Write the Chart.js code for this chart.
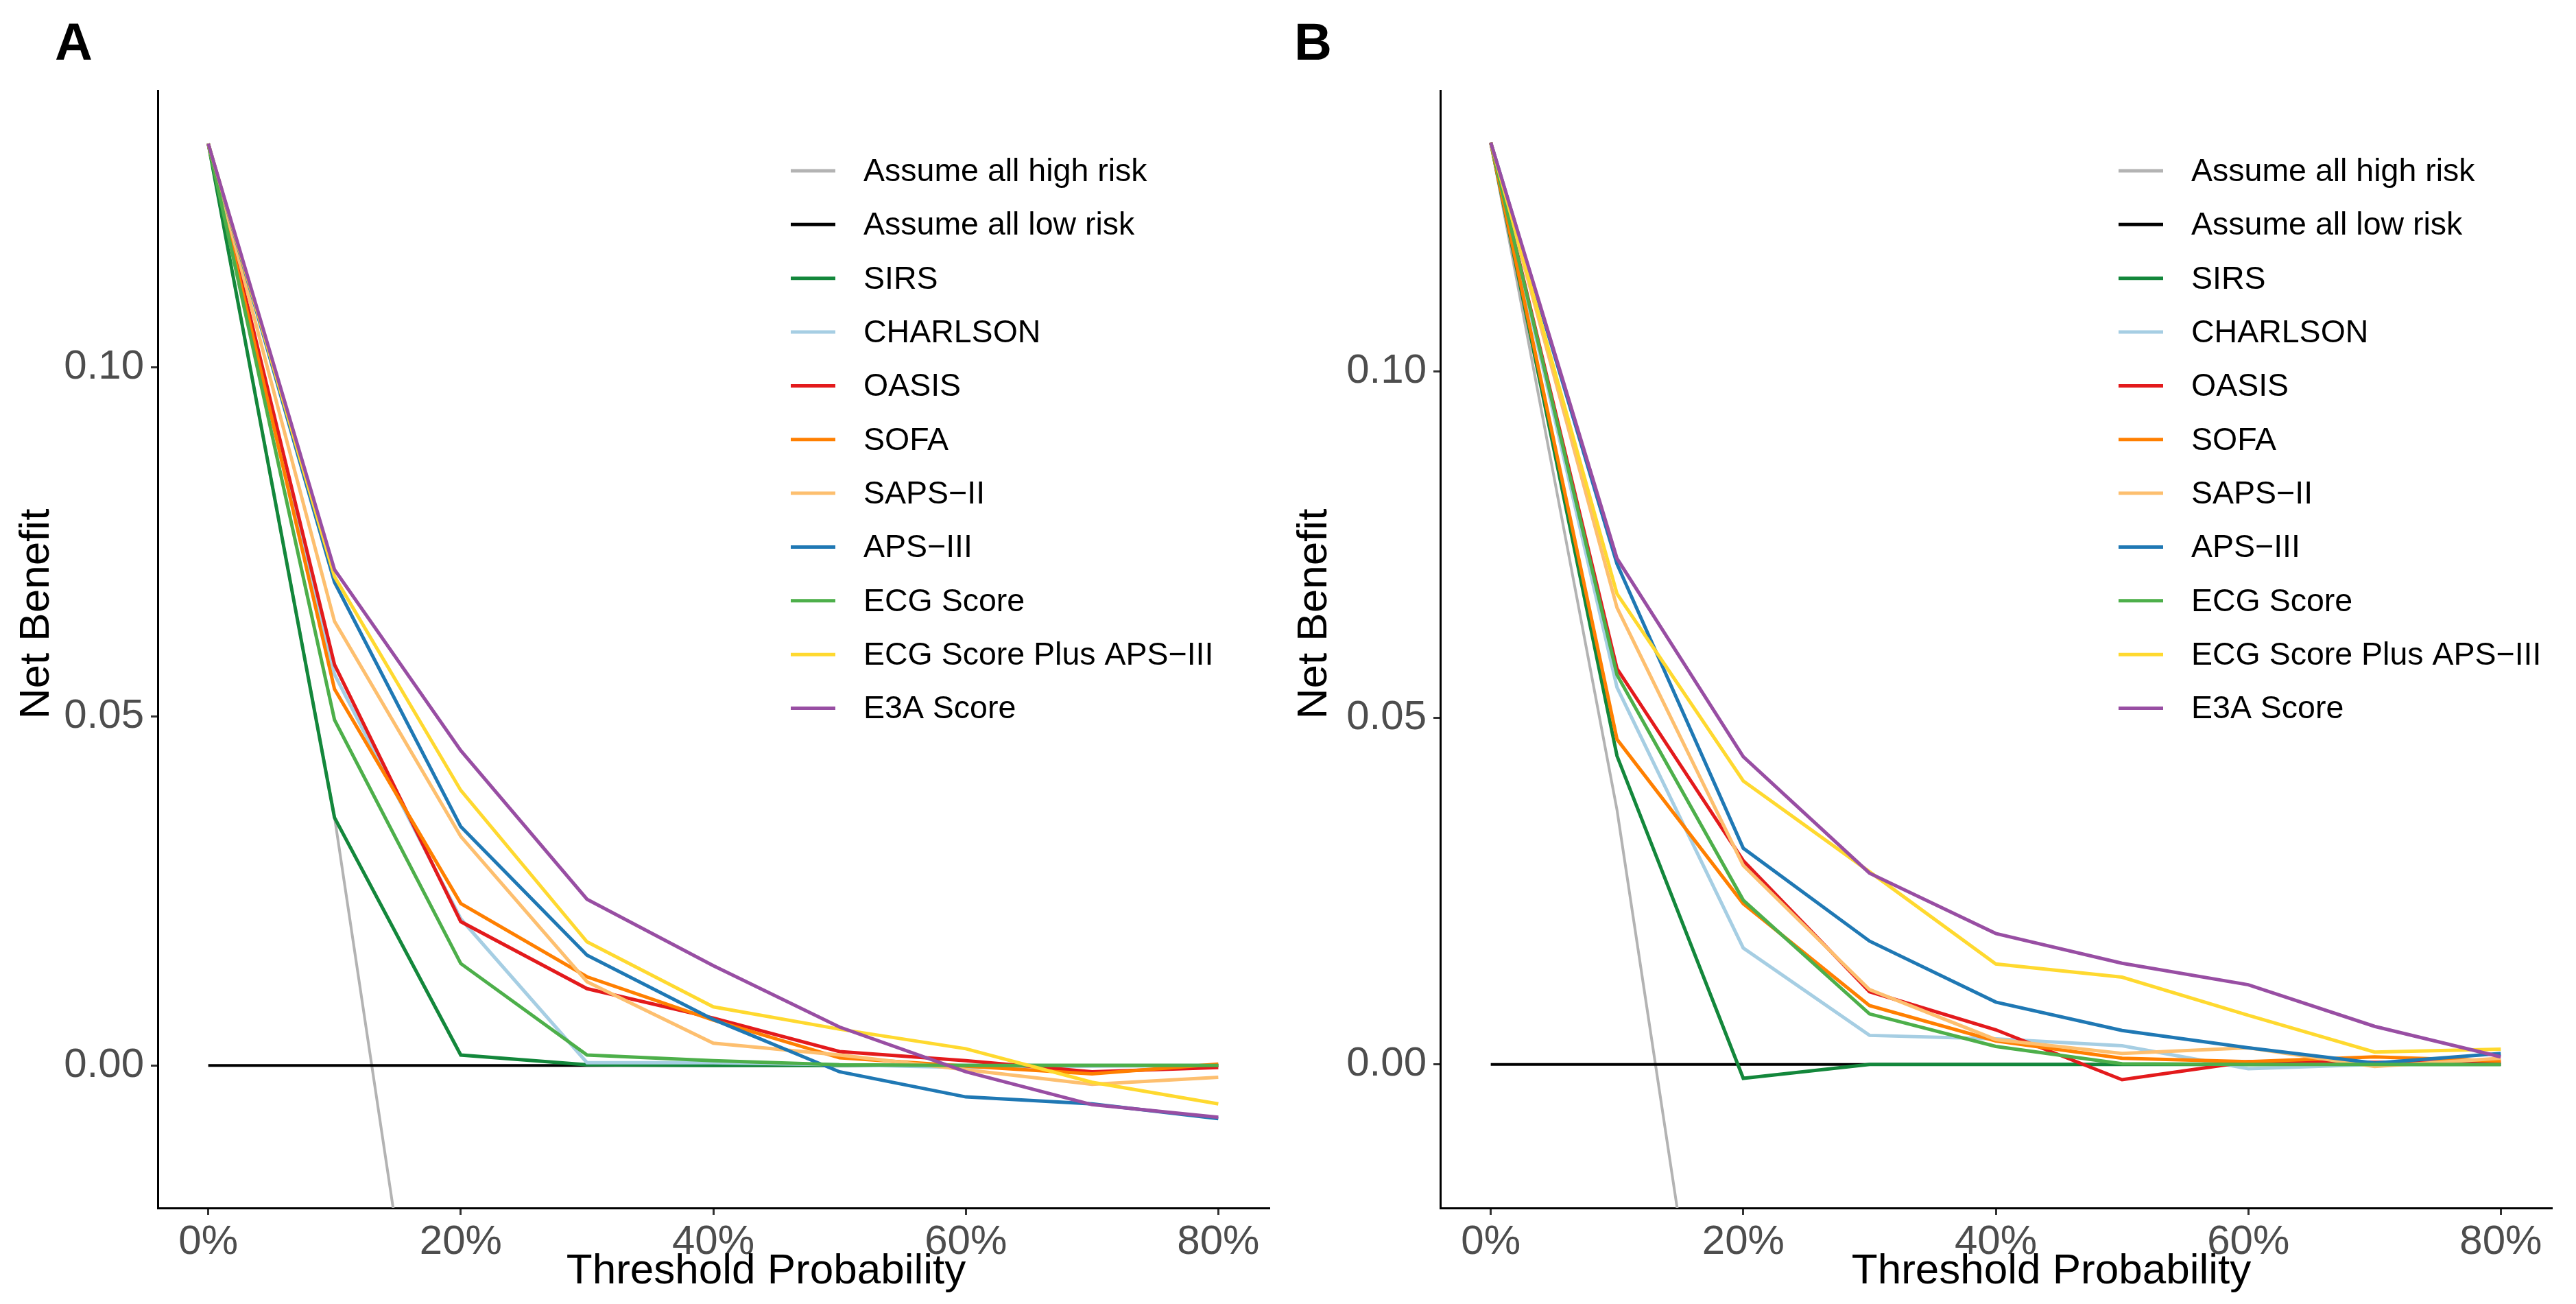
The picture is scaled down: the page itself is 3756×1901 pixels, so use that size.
<!DOCTYPE html>
<html>
<head>
<meta charset="utf-8">
<script src="https://cdn.jsdelivr.net/npm/chart.js@4.4.1/dist/chart.umd.min.js"></script>
<style>
  html, body { margin: 0; padding: 0; background: #fff; }
  #wrap { position: relative; width: 3756px; height: 1901px; }
  canvas { position: absolute; top: 0; }
</style>
</head>
<body>
<div id="wrap">
  <canvas id="panelA" width="1878" height="1901" style="left:0;width:1878px;height:1901px"></canvas>
  <canvas id="panelB" width="1878" height="1901" style="left:1878px;width:1878px;height:1901px"></canvas>
</div>
<script>
// threshold probability (%)
const thresholds = [0, 10, 20, 30, 40, 50, 60, 70, 80];
const xTicks = [0, 20, 40, 60, 80];
const yTicks = [0, 0.05, 0.10];

const seriesNames = ['Assume all high risk', 'Assume all low risk', 'SIRS', 'CHARLSON', 'OASIS',
  'SOFA', 'SAPS\u2212II', 'APS\u2212III', 'ECG Score', 'ECG Score Plus APS\u2212III', 'E3A Score'];

// panel A net benefit
const aHighRisk = [0.132, 0.0356, -0.085, -0.240, -0.447, -0.736, -1.170, -1.893, -3.340];
const aLowRisk  = [0, 0, 0, 0, 0, 0, 0, 0, 0];
const aSIRS     = [0.132, 0.0355, 0.0015, 0.0001, 0, 0, 0, 0, 0];
const aCharlson = [0.132, 0.0560, 0.0210, 0.0004, 0.0004, 0.0001, -0.0003, -0.0001, 0];
const aOASIS    = [0.132, 0.0574, 0.0206, 0.0110, 0.0068, 0.0020, 0.0007, -0.0009, -0.0003];
const aSOFA     = [0.132, 0.0539, 0.0232, 0.0127, 0.0065, 0.0011, -0.0001, -0.0012, 0.0002];
const aSAPS     = [0.132, 0.0636, 0.0328, 0.0120, 0.0032, 0.0015, -0.0006, -0.0027, -0.0017];
const aAPS      = [0.132, 0.0692, 0.0342, 0.0158, 0.0066, -0.0009, -0.0045, -0.0055, -0.0076];
const aECG      = [0.132, 0.0495, 0.0146, 0.0015, 0.0007, 0.0001, 0, 0, 0];
const aECGAPS   = [0.132, 0.0700, 0.0394, 0.0177, 0.0084, 0.0052, 0.0024, -0.0024, -0.0055];
const aE3A      = [0.132, 0.0710, 0.0451, 0.0238, 0.0143, 0.0055, -0.0009, -0.0056, -0.0074];

// panel B net benefit
const bHighRisk = [0.133, 0.0367, -0.0838, -0.2386, -0.445, -0.734, -1.1675, -1.890, -3.335];
const bLowRisk  = [0, 0, 0, 0, 0, 0, 0, 0, 0];
const bSIRS     = [0.133, 0.0445, -0.0020, 0, 0, 0, 0, 0, 0];
const bCharlson = [0.133, 0.0544, 0.0168, 0.0042, 0.0037, 0.0027, -0.0006, 0, 0.0002];
const bOASIS    = [0.133, 0.0571, 0.0294, 0.0105, 0.0050, -0.0022, 0.0004, 0.0003, 0.0003];
const bSOFA     = [0.133, 0.0469, 0.0232, 0.0085, 0.0034, 0.0009, 0.0004, 0.0011, 0.0005];
const bSAPS     = [0.133, 0.0659, 0.0287, 0.0108, 0.0036, 0.0016, 0.0024, -0.0003, 0.0009];
const bAPS      = [0.133, 0.0722, 0.0312, 0.0178, 0.0090, 0.0049, 0.0024, 0.0002, 0.0016];
const bECG      = [0.133, 0.0562, 0.0237, 0.0073, 0.0026, 0.0001, 0, 0, 0];
const bECGAPS   = [0.133, 0.0679, 0.0409, 0.0278, 0.0145, 0.0126, 0.0071, 0.0018, 0.0022];
const bE3A      = [0.133, 0.0730, 0.0444, 0.0276, 0.0189, 0.0146, 0.0115, 0.0055, 0.0011];

const colors = ['#b3b3b3', '#000000', '#13873b', '#a6cee3', '#e31a1c', '#ff7f00',
  '#fdbf6f', '#1f78b4', '#4daf4a', '#ffd92f', '#984ea3'];

const FONT = '"Liberation Sans", Arial, Helvetica, sans-serif';

// panel letter, axis titles and legend drawn on top of the chart
const decorPlugin = {
    id: 'decor',
    afterDraw(chart, args, opts) {
        const ctx = chart.ctx;
        ctx.save();
        ctx.fillStyle = '#000';
        ctx.textAlign = 'left';
        ctx.textBaseline = 'alphabetic';
        ctx.font = 'bold 76px ' + FONT;
        ctx.fillText(opts.letter, opts.letterX, 87);

        ctx.font = '62px ' + FONT;
        ctx.textAlign = 'center';
        ctx.fillText('Threshold Probability', opts.xTitleX, 1871);

        ctx.save();
        ctx.translate(opts.yTitleX, 895);
        ctx.rotate(-Math.PI / 2);
        ctx.fillText('Net Benefit', 0, 0);
        ctx.restore();

        // legend
        ctx.font = '46.5px ' + FONT;
        ctx.textAlign = 'left';
        ctx.textBaseline = 'middle';
        seriesNames.forEach((name, i) => {
            const y = 249 + i * 78.35;
            ctx.strokeStyle = colors[i];
            ctx.lineWidth = 5;
            ctx.beginPath();
            ctx.moveTo(opts.legendX, y);
            ctx.lineTo(opts.legendX + 65, y);
            ctx.stroke();
            ctx.fillStyle = '#000';
            ctx.fillText(name, opts.legendX + 106, y + 2);
        });
        ctx.restore();
    }
};

function makePanel(id, series, cfg) {
    const datasets = series.map((vals, i) => ({
        label: seriesNames[i],
        data: vals.map((v, k) => ({ x: thresholds[k], y: v })),
        borderColor: colors[i],
        borderWidth: i < 2 ? 4 : 5,
        pointRadius: 0,
        tension: 0,
        fill: false,
        clip: 0,
        order: series.length - i
    }));

    return new Chart(document.getElementById(id), {
        type: 'line',
        data: { datasets: datasets },
        plugins: [decorPlugin],
        options: {
            responsive: false,
            animation: false,
            devicePixelRatio: 1,
            layout: { padding: { top: 132, right: cfg.rightPad, left: 0, bottom: 0 } },
            plugins: {
                legend: { display: false },
                tooltip: { enabled: false },
                decor: cfg
            },
            scales: {
                x: {
                    type: 'linear',
                    min: -4,
                    max: 84,
                    afterBuildTicks: s => { s.ticks = xTicks.map(v => ({ value: v })); },
                    afterFit: s => { s.height = 140; },
                    grid: { drawOnChartArea: false, drawTicks: true, tickLength: 10, color: '#333', lineWidth: 3 },
                    border: { display: true, color: '#000', width: 3 },
                    ticks: {
                        autoSkip: false, maxRotation: 0, padding: 4,
                        color: '#4d4d4d', font: { family: FONT, size: 60 },
                        callback: v => v + '%'
                    }
                },
                y: {
                    type: 'linear',
                    min: cfg.yMin,
                    max: cfg.yMax,
                    afterBuildTicks: s => { s.ticks = yTicks.map(v => ({ value: v })); },
                    afterFit: s => { s.width = cfg.leftW; },
                    grid: { drawOnChartArea: false, drawTicks: true, tickLength: 10, color: '#333', lineWidth: 3 },
                    border: { display: true, color: '#000', width: 3 },
                    ticks: {
                        padding: 10,
                        color: '#4d4d4d', font: { family: FONT, size: 60 },
                        callback: v => v.toFixed(2)
                    }
                }
            }
        }
    });
}

makePanel('panelA',
    [aHighRisk, aLowRisk, aSIRS, aCharlson, aOASIS, aSOFA, aSAPS, aAPS, aECG, aECGAPS, aE3A],
    { letter: 'A', letterX: 80, yTitleX: 71, xTitleX: 1117, legendX: 1153,
      yMin: -0.0204, yMax: 0.1396, leftW: 230, rightPad: 28 });

makePanel('panelB',
    [bHighRisk, bLowRisk, bSIRS, bCharlson, bOASIS, bSOFA, bSAPS, bAPS, bECG, bECGAPS, bE3A],
    { letter: 'B', letterX: 9, yTitleX: 56, xTitleX: 1113, legendX: 1211,
      yMin: -0.0207, yMax: 0.1405, leftW: 222, rightPad: 36 });
</script>
</body>
</html>
